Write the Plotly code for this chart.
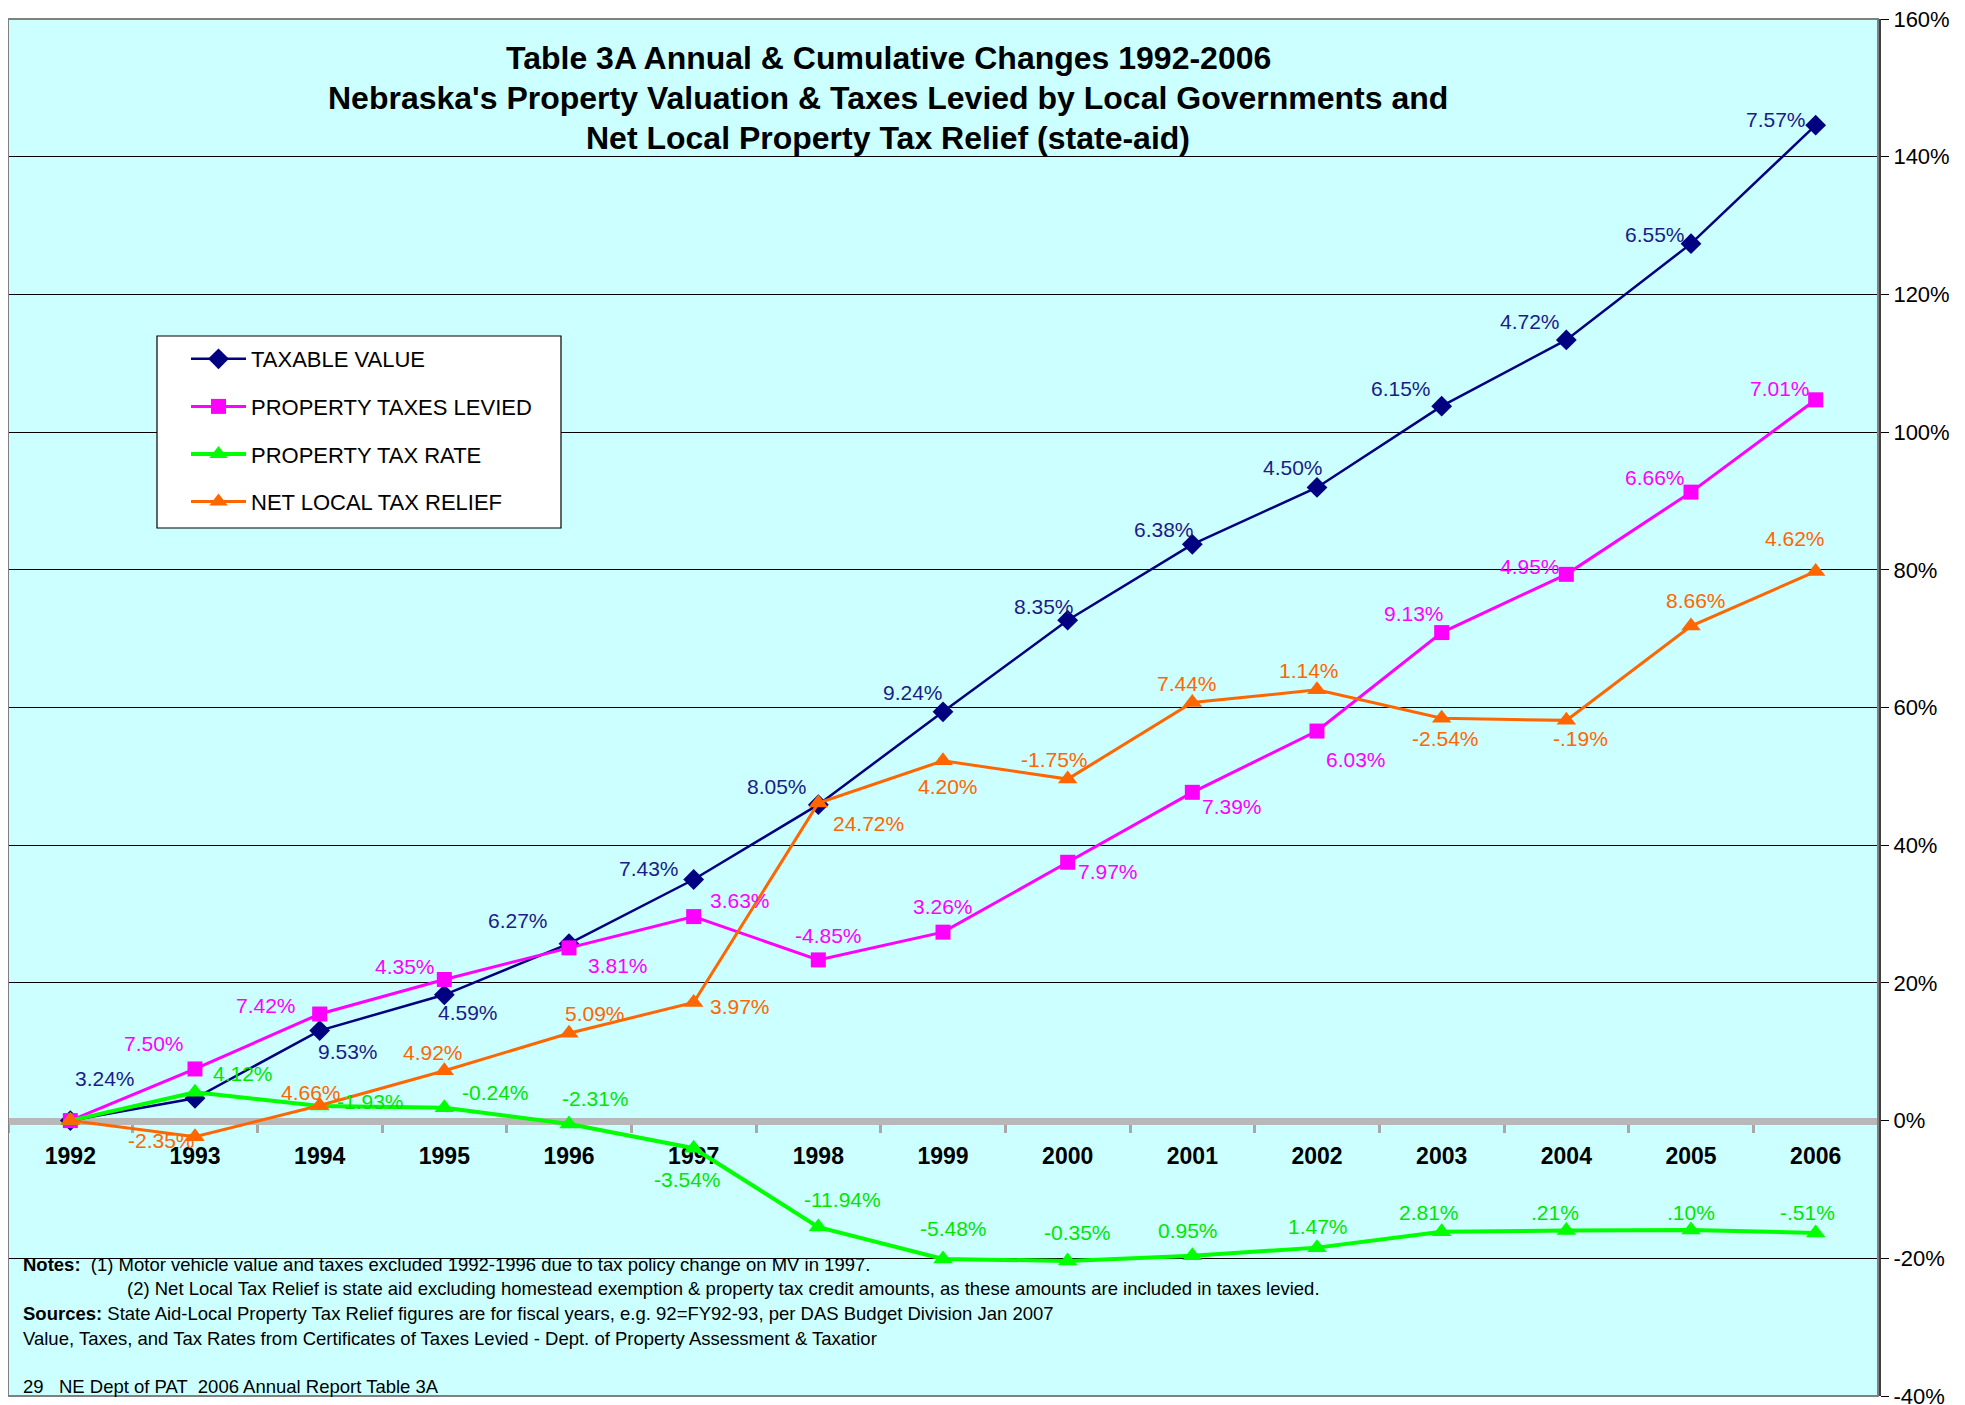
import plotly.graph_objects as go

# ---------------- data ----------------
years = ["1992", "1993", "1994", "1995", "1996", "1997", "1998", "1999",
         "2000", "2001", "2002", "2003", "2004", "2005", "2006"]

# cumulative change since 1992 (%), as plotted
taxable_value = [0, 3.24, 13.08, 18.27, 25.69, 35.02, 45.89, 59.37,
                 72.68, 83.70, 91.96, 103.77, 113.39, 127.37, 144.58]
taxes_levied = [0, 7.50, 15.48, 20.50, 25.09, 29.63, 23.34, 27.37,
                37.52, 47.68, 56.58, 70.88, 79.34, 91.28, 104.69]
tax_rate = [0, 4.12, 2.11, 1.87, -0.49, -4.01, -15.47, -20.10,
            -20.38, -19.63, -18.45, -16.15, -15.98, -15.89, -16.32]
tax_relief = [0, -2.35, 2.20, 7.23, 12.69, 17.16, 46.12, 52.26,
              49.60, 60.72, 62.56, 58.43, 58.13, 71.82, 79.76]

# annual change labels
tv_labels = ["", "3.24%", "9.53%", "4.59%", "6.27%", "7.43%", "8.05%", "9.24%",
             "8.35%", "6.38%", "4.50%", "6.15%", "4.72%", "6.55%", "7.57%"]
tl_labels = ["", "7.50%", "7.42%", "4.35%", "3.81%", "3.63%", "-4.85%", "3.26%",
             "7.97%", "7.39%", "6.03%", "9.13%", "4.95%", "6.66%", "7.01%"]
tr_labels = ["", "4.12%", "-1.93%", "-0.24%", "-2.31%", "-3.54%", "-11.94%", "-5.48%",
             "-0.35%", "0.95%", "1.47%", "2.81%", ".21%", ".10%", "-.51%"]
rl_labels = ["", "-2.35%", "4.66%", "4.92%", "5.09%", "3.97%", "24.72%", "4.20%",
             "-1.75%", "7.44%", "1.14%", "-2.54%", "-.19%", "8.66%", "4.62%"]

y_ticks = [-40, -20, 0, 20, 40, 60, 80, 100, 120, 140, 160]

# ---------------- label offsets (px) ----------------
tv_off = [(0, 0), (-90, 20), (28, -21), (24, -18), (-51, 23), (-45, 11), (-41, 18), (-30, 19),
          (-24, 14), (-28, 15), (-24, 20), (-41, 18), (-36, 18), (-36, 9), (-40, 6)]
tl_off = [(0, 0), (-41, 25), (-54, 9), (-39, 13), (49, -18), (46, 16), (10, 24), (0, 26),
          (40, -9), (40, -14), (39, -28), (-28, 19), (-36, 8), (-36, 15), (-36, 11)]
tr_off = [(0, 0), (48, 19), (51, 5), (51, 15), (26, 25), (-6, -31), (24, 28), (10, 30),
          (10, 28), (-4, 25), (1, 21), (-13, 19), (-11, 18), (0, 18), (-8, 20)]
rl_off = [(0, 0), (-34, -4), (-9, 13), (-11, 18), (26, 20), (46, -4), (50, -20), (5, -26),
          (-13, 20), (-5, 19), (-8, 19), (4, -20), (14, -18), (5, 26), (-21, 33)]

FONT = "Liberation Sans, Arial, sans-serif"
W, H = 1965, 1405
OFF = 8  # browser body margin
# plot area in page pixels
PL, PR, PT, PB = 8, 1878, 19, 1396
L, R, T, B = PL - OFF, PR - OFF, PT - OFF, PB - OFF


def px_x(x):  # page px -> paper fraction
    return (x - PL) / (PR - PL)


def px_y(y):
    return (PB - y) / (PB - PT)


series = [
    ("TAXABLE VALUE", taxable_value, "#000080", 2.5, "diamond", 16, "#1c1c86", tv_labels, tv_off),
    ("PROPERTY TAXES LEVIED", taxes_levied, "#FF00FF", 3, "square", 15, "#FF00FF", tl_labels, tl_off),
    ("PROPERTY TAX RATE", tax_rate, "#00FF00", 4, "triangle-up", 17, "#00E600", tr_labels, tr_off),
    ("NET LOCAL TAX RELIEF", tax_relief, "#FF6600", 3, "triangle-up", 17, "#FF6600", rl_labels, rl_off),
]

fig = go.Figure()
annotations = []
for i, (name, vals, col, lw, sym, ms, lcol, labs, offs) in enumerate(series):
    fig.add_trace(go.Scatter(
        x=years, y=vals, name=name, mode="lines+markers",
        line=dict(color=col, width=lw),
        marker=dict(symbol=sym, size=ms, color=col),
        legendgroup=f"g{i}",
        cliponaxis=False,
    ))
    for k in range(1, len(years)):
        annotations.append(dict(
            x=k, y=vals[k], xref="x", yref="y", text=labs[k],
            showarrow=False, xshift=offs[k][0], yshift=offs[k][1],
            font=dict(family=FONT, size=21, color=lcol),
        ))

# title
title_lines = ["Table 3A Annual & Cumulative Changes 1992-2006",
               "Nebraska's Property Valuation & Taxes Levied by Local Governments and",
               "Net Local Property Tax Relief (state-aid)"]
for line, ypx in zip(title_lines, [58, 98, 138]):
    annotations.append(dict(
        x=px_x(888), y=px_y(ypx), xref="paper", yref="paper", text=f"<b>{line}</b>",
        showarrow=False, xanchor="center", yanchor="middle",
        font=dict(family=FONT, size=32, color="black"),
    ))

# notes
notes = [
    (21, 1264, "<b>Notes:</b>  (1) Motor vehicle value and taxes excluded 1992-1996 due to tax policy change on MV in 1997."),
    (125, 1288, "(2) Net Local Tax Relief is state aid excluding homestead exemption & property tax credit amounts, as these amounts are included in taxes levied."),
    (21, 1313, "<b>Sources:</b> State Aid-Local Property Tax Relief figures are for fiscal years, e.g. 92=FY92-93, per DAS Budget Division Jan 2007"),
    (21, 1338, "Value, Taxes, and Tax Rates from Certificates of Taxes Levied - Dept. of Property Assessment & Taxatior"),
    (21, 1386, "29   NE Dept of PAT  2006 Annual Report Table 3A"),
]
for xpx, ypx, txt in notes:
    annotations.append(dict(
        x=px_x(xpx), y=px_y(ypx), xref="paper", yref="paper", text=txt,
        showarrow=False, xanchor="left", yanchor="middle",
        font=dict(family=FONT, size=18.5, color="black"),
    ))

shapes = [
    # legend box
    dict(type="rect", xref="paper", yref="paper",
         x0=px_x(157), x1=px_x(561), y0=px_y(528), y1=px_y(336),
         fillcolor="white", line=dict(color="black", width=1.2), layer="above"),
    # chart area border
    dict(type="rect", xref="paper", yref="paper", x0=0, x1=1, y0=0, y1=1,
         line=dict(color="#808080", width=2), layer="above"),
]

fig.update_layout(
    width=W, height=H,
    margin=dict(l=L, r=W - R, t=T, b=H - B, pad=0),
    paper_bgcolor="white",
    plot_bgcolor="#CCFFFF",
    font=dict(family=FONT, color="black"),
    showlegend=True,
    legend=dict(
        x=px_x(186), y=px_y(338), xanchor="left", yanchor="top",
        bgcolor="rgba(0,0,0,0)", borderwidth=0,
        font=dict(family=FONT, size=22, color="black"),
        tracegroupgap=16, itemwidth=55,
    ),
    annotations=annotations,
    shapes=shapes,
)

fig.update_xaxes(
    type="category", range=[-0.5, 14.5],
    anchor="free", position=0.2,
    showline=True, linecolor="#B8B8B8", linewidth=7,
    ticks="outside", tickson="boundaries", ticklen=8, tickcolor="#A8A8A8", tickwidth=3,
    showgrid=False, zeroline=False,
    tickfont=dict(family=FONT, size=23, color="black", weight="bold"),
    ticklabelstandoff=12,
    layer="below traces",
)
fig.update_yaxes(
    range=[-40, 160], side="right",
    tickvals=y_ticks, ticktext=[f"{v}%" for v in y_ticks],
    showgrid=True, gridcolor="black", gridwidth=1,
    zeroline=False,
    showline=True, linecolor="#404040", linewidth=3,
    ticks="outside", ticklen=8, tickcolor="black",
    tickfont=dict(family=FONT, size=22, color="black"),
    ticklabeloverflow="allow",
)

fig.write_html("out.html")
